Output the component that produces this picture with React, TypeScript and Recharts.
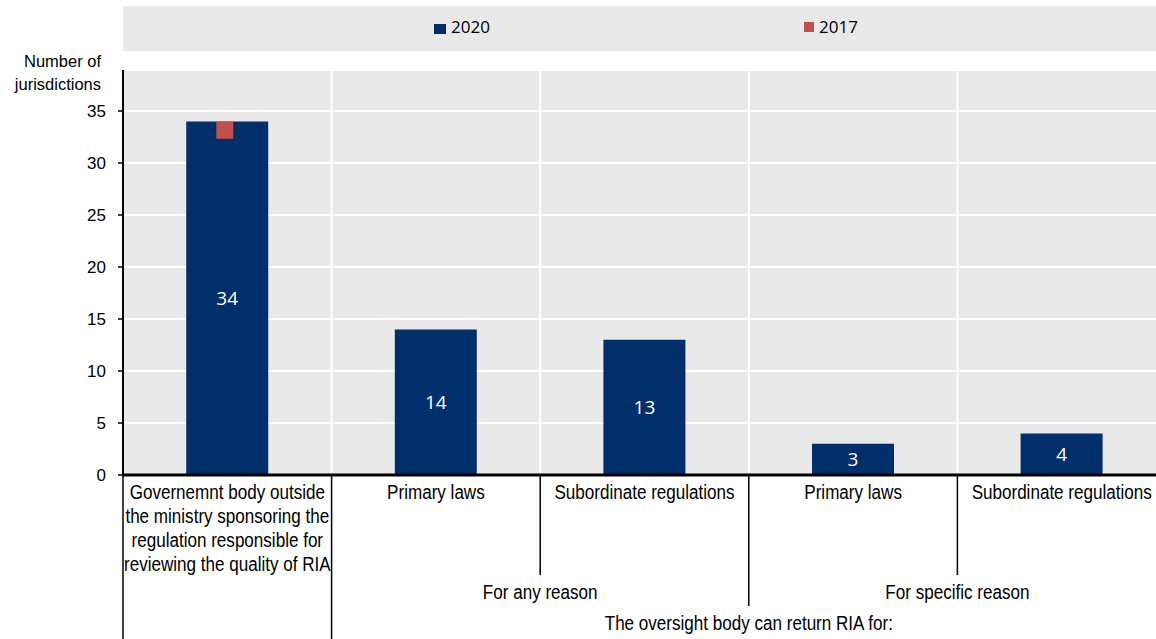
import { Bar, CartesianGrid, ComposedChart, LabelList, Line, XAxis, YAxis } from "recharts";

const categories = [
  "Governemnt body outside|the ministry sponsoring the|regulation responsible for|reviewing the quality of RIA",
  "Primary laws",
  "Subordinate regulations",
  "Primary laws",
  "Subordinate regulations",
];
const values2020 = [34, 14, 13, 3, 4];
const values2017: (number | null)[] = [33, null, null, null, null];
const yTicks = [0, 5, 10, 15, 20, 25, 30, 35];

// second and third level of the category axis (drawn at the right edge of the given index)
const groupLabels: Record<number, string> = { 1: "For any reason", 3: "For specific reason" };
const outerLabel = { index: 2, text: "The oversight body can return RIA for:" };

const data = categories.map((name, i) => ({
  name,
  v2020: values2020[i],
  v2017: values2017[i],
}));

const NAVY = "#002F6C";
const RED = "#C0504D";
const GRID_BG = "#E9E9E9";
const LABEL_FONT = "'Liberation Sans', Arial, sans-serif";

// how far each right-hand separator goes below the axis
const sepDepth = [164, 100, 131, 100, 164];

// narrow-looking text: squeeze horizontally
function NarrowText({ x, y, children }: { x: number; y: number; children: any }) {
  return (
    <text
      transform={`translate(${x},${y}) scale(0.875,1)`}
      textAnchor="middle"
      fontSize={19.5}
      fontFamily={LABEL_FONT}
      fill="#000"
    >
      {children}
    </text>
  );
}

function CategoryTick(props: any) {
  const { x, y, payload, index } = props;
  const half = payload?.offset || 104.25;
  const lines = String(payload.value).split("|");
  return (
    <g>
      {index === 0 && (
        <line x1={x - half} x2={x - half} y1={y} y2={y + 164} stroke="#000" strokeWidth={1.5} />
      )}
      <line x1={x + half} x2={x + half} y1={y} y2={y + sepDepth[index]} stroke="#000" strokeWidth={1.5} />
      {lines.map((l, i) => (
        <NarrowText key={i} x={x} y={y + 24 + i * 24}>
          {l}
        </NarrowText>
      ))}
      {groupLabels[index] && (
        <NarrowText x={x + half} y={y + 124}>
          {groupLabels[index]}
        </NarrowText>
      )}
      {index === outerLabel.index && (
        <NarrowText x={x + half} y={y + 155}>
          {outerLabel.text}
        </NarrowText>
      )}
    </g>
  );
}

function SquareDot(props: any) {
  const { cx, cy, value, index } = props;
  if (value == null || cy == null) return <g key={`d${index}`} />;
  return <rect key={`d${index}`} x={cx - 11} y={cy - 10} width={17} height={17} fill={RED} />;
}

export default function App() {
  return (
    <div
      style={{
        position: "absolute",
        left: 0,
        top: 0,
        width: 1156,
        height: 639,
        overflow: "hidden",
        background: "#fff",
      }}
    >
      <div
        style={{
          position: "absolute",
          left: 123,
          top: 6,
          width: 1033,
          height: 45,
          background: GRID_BG,
          fontFamily: "'Open Sans', 'Noto Sans', sans-serif",
          fontSize: 17,
          color: "#000",
        }}
      >
        <span style={{ position: "absolute", left: 311, top: 18, width: 12, height: 10, background: NAVY }} />
        <span style={{ position: "absolute", left: 328, top: 9 }}>2020</span>
        <span style={{ position: "absolute", left: 681, top: 16, width: 10, height: 10, background: RED }} />
        <span style={{ position: "absolute", left: 696, top: 9 }}>2017</span>
      </div>
      <div
        style={{
          position: "absolute",
          right: 1156 - 101,
          top: 50,
          textAlign: "right",
          fontFamily: "'Liberation Sans', Arial, sans-serif",
          fontSize: 16.5,
          lineHeight: "23px",
          color: "#000",
          whiteSpace: "nowrap",
        }}
      >
        Number of
        <br />
        jurisdictions
      </div>
      <ComposedChart
        width={1166}
        height={639}
        data={data}
        margin={{ top: 70, right: 0, bottom: 0, left: 0 }}
        barCategoryGap="30.3%"
        style={{ position: "absolute", left: 0, top: 0 }}
      >
        <CartesianGrid
          fill={GRID_BG}
          stroke="#fff"
          strokeWidth={2}
          verticalCoordinatesGenerator={({ offset }: any) =>
            [1, 2, 3, 4].map((i) => offset.left + (offset.width * i) / categories.length)
          }
        />
        <XAxis
          dataKey="name"
          height={164}
          interval={0}
          tickLine={false}
          tickSize={0}
          tickMargin={0}
          axisLine={{ stroke: "#000", strokeWidth: 3 }}
          tick={<CategoryTick />}
        />
        <YAxis
          width={123}
          domain={[0, 38.94]}
          ticks={yTicks}
          allowDataOverflow
          tickSize={5}
          tickMargin={12}
          axisLine={{ stroke: "#000", strokeWidth: 2 }}
          tickLine={{ stroke: "#000", strokeWidth: 1.5 }}
          tick={{ fill: "#000", fontSize: 17, fontFamily: "'Liberation Sans', Arial, sans-serif" }}
        />
        <Bar dataKey="v2020" fill={NAVY} isAnimationActive={false}>
          <LabelList
            dataKey="v2020"
            position="center"
            fill="#fff"
            fontSize={19}
            fontFamily="'Open Sans', 'Noto Sans', sans-serif"
          />
        </Bar>
        <Line
          dataKey="v2017"
          stroke="none"
          dot={<SquareDot />}
          activeDot={false}
          isAnimationActive={false}
        />
      </ComposedChart>
    </div>
  );
}
